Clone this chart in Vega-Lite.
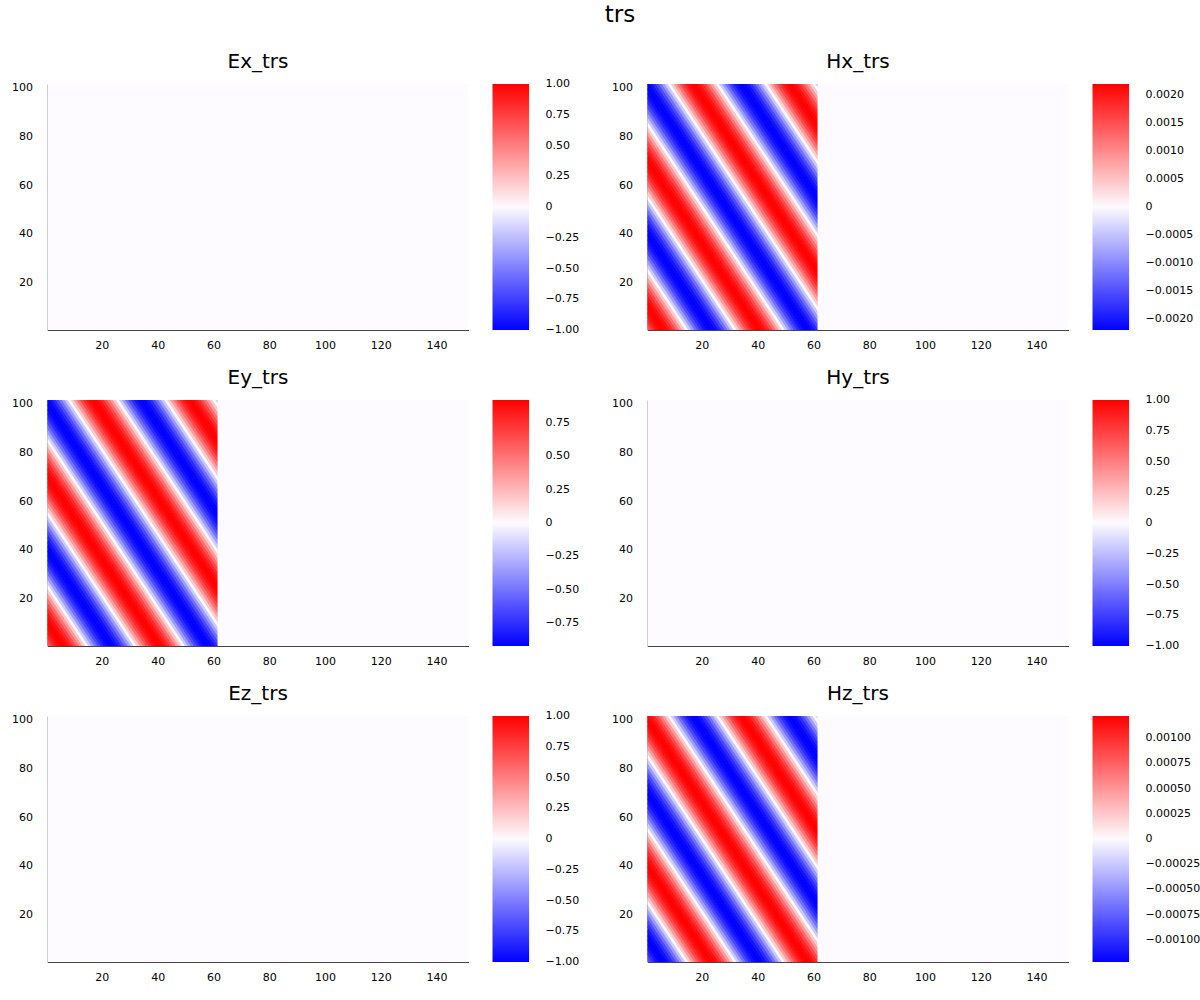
{
 "$schema": "https://vega.github.io/schema/vega-lite/v6.json",
 "background": "white",
 "padding": {"left": 11.5, "top": 3, "right": 0, "bottom": 0},
 "title": {"text": "trs", "fontSize": 23, "anchor": "middle", "offset": 25, "dx": 14},
 "datasets": {
  "zfull": [{"x": 0.5, "x2": 151.5, "y": 0.5, "y2": 101.5, "v": 0}],
  "zright": [{"x": 61.5, "x2": 151.5, "y": 0.5, "y2": 101.5, "v": 0}],
  "wave": [
{"x":0.46,"x2":-59.59,"y":-1,"y2":103,"ey":0.3521,"hx":0.000842,"hz":-0.000467},
{"x":1.54,"x2":-58.50,"y":-1,"y2":103,"ey":0.5111,"hx":0.001222,"hz":-0.000678},
{"x":2.62,"x2":-57.42,"y":-1,"y2":103,"ey":0.6505,"hx":0.001556,"hz":-0.000863},
{"x":3.70,"x2":-56.34,"y":-1,"y2":103,"ey":0.765,"hx":0.001829,"hz":-0.001014},
{"x":4.79,"x2":-55.26,"y":-1,"y2":103,"ey":0.85,"hx":0.002033,"hz":-0.001127},
{"x":5.87,"x2":-54.17,"y":-1,"y2":103,"ey":0.9023,"hx":0.002158,"hz":-0.001197},
{"x":6.95,"x2":-53.09,"y":-1,"y2":103,"ey":0.92,"hx":0.0022,"hz":-0.00122},
{"x":8.03,"x2":-52.01,"y":-1,"y2":103,"ey":0.9023,"hx":0.002158,"hz":-0.001197},
{"x":9.12,"x2":-50.93,"y":-1,"y2":103,"ey":0.85,"hx":0.002033,"hz":-0.001127},
{"x":10.20,"x2":-49.84,"y":-1,"y2":103,"ey":0.765,"hx":0.001829,"hz":-0.001014},
{"x":11.28,"x2":-48.76,"y":-1,"y2":103,"ey":0.6505,"hx":0.001556,"hz":-0.000863},
{"x":12.36,"x2":-47.68,"y":-1,"y2":103,"ey":0.5111,"hx":0.001222,"hz":-0.000678},
{"x":13.45,"x2":-46.60,"y":-1,"y2":103,"ey":0.3521,"hx":0.000842,"hz":-0.000467},
{"x":14.53,"x2":-45.51,"y":-1,"y2":103,"ey":0.1795,"hx":0.000429,"hz":-0.000238},
{"x":15.61,"x2":-44.43,"y":-1,"y2":103,"ey":0,"hx":0,"hz":0},
{"x":16.69,"x2":-43.35,"y":-1,"y2":103,"ey":-0.1795,"hx":-0.000429,"hz":0.000238},
{"x":17.78,"x2":-42.27,"y":-1,"y2":103,"ey":-0.3521,"hx":-0.000842,"hz":0.000467},
{"x":18.86,"x2":-41.18,"y":-1,"y2":103,"ey":-0.5111,"hx":-0.001222,"hz":0.000678},
{"x":19.94,"x2":-40.10,"y":-1,"y2":103,"ey":-0.6505,"hx":-0.001556,"hz":0.000863},
{"x":21.02,"x2":-39.02,"y":-1,"y2":103,"ey":-0.765,"hx":-0.001829,"hz":0.001014},
{"x":22.11,"x2":-37.94,"y":-1,"y2":103,"ey":-0.85,"hx":-0.002033,"hz":0.001127},
{"x":23.19,"x2":-36.85,"y":-1,"y2":103,"ey":-0.9023,"hx":-0.002158,"hz":0.001197},
{"x":24.27,"x2":-35.77,"y":-1,"y2":103,"ey":-0.92,"hx":-0.0022,"hz":0.00122},
{"x":25.35,"x2":-34.69,"y":-1,"y2":103,"ey":-0.9023,"hx":-0.002158,"hz":0.001197},
{"x":26.44,"x2":-33.61,"y":-1,"y2":103,"ey":-0.85,"hx":-0.002033,"hz":0.001127},
{"x":27.52,"x2":-32.52,"y":-1,"y2":103,"ey":-0.765,"hx":-0.001829,"hz":0.001014},
{"x":28.60,"x2":-31.44,"y":-1,"y2":103,"ey":-0.6505,"hx":-0.001556,"hz":0.000863},
{"x":29.68,"x2":-30.36,"y":-1,"y2":103,"ey":-0.5111,"hx":-0.001222,"hz":0.000678},
{"x":30.77,"x2":-29.28,"y":-1,"y2":103,"ey":-0.3521,"hx":-0.000842,"hz":0.000467},
{"x":31.85,"x2":-28.19,"y":-1,"y2":103,"ey":-0.1795,"hx":-0.000429,"hz":0.000238},
{"x":32.93,"x2":-27.11,"y":-1,"y2":103,"ey":0,"hx":0,"hz":0},
{"x":34.01,"x2":-26.03,"y":-1,"y2":103,"ey":0.1795,"hx":0.000429,"hz":-0.000238},
{"x":35.10,"x2":-24.95,"y":-1,"y2":103,"ey":0.3521,"hx":0.000842,"hz":-0.000467},
{"x":36.18,"x2":-23.86,"y":-1,"y2":103,"ey":0.5111,"hx":0.001222,"hz":-0.000678},
{"x":37.26,"x2":-22.78,"y":-1,"y2":103,"ey":0.6505,"hx":0.001556,"hz":-0.000863},
{"x":38.34,"x2":-21.70,"y":-1,"y2":103,"ey":0.765,"hx":0.001829,"hz":-0.001014},
{"x":39.43,"x2":-20.62,"y":-1,"y2":103,"ey":0.85,"hx":0.002033,"hz":-0.001127},
{"x":40.51,"x2":-19.53,"y":-1,"y2":103,"ey":0.9023,"hx":0.002158,"hz":-0.001197},
{"x":41.59,"x2":-18.45,"y":-1,"y2":103,"ey":0.92,"hx":0.0022,"hz":-0.00122},
{"x":42.67,"x2":-17.37,"y":-1,"y2":103,"ey":0.9023,"hx":0.002158,"hz":-0.001197},
{"x":43.76,"x2":-16.29,"y":-1,"y2":103,"ey":0.85,"hx":0.002033,"hz":-0.001127},
{"x":44.84,"x2":-15.20,"y":-1,"y2":103,"ey":0.765,"hx":0.001829,"hz":-0.001014},
{"x":45.92,"x2":-14.12,"y":-1,"y2":103,"ey":0.6505,"hx":0.001556,"hz":-0.000863},
{"x":47.00,"x2":-13.04,"y":-1,"y2":103,"ey":0.5111,"hx":0.001222,"hz":-0.000678},
{"x":48.09,"x2":-11.96,"y":-1,"y2":103,"ey":0.3521,"hx":0.000842,"hz":-0.000467},
{"x":49.17,"x2":-10.87,"y":-1,"y2":103,"ey":0.1795,"hx":0.000429,"hz":-0.000238},
{"x":50.25,"x2":-9.79,"y":-1,"y2":103,"ey":0,"hx":0,"hz":0},
{"x":51.33,"x2":-8.71,"y":-1,"y2":103,"ey":-0.1795,"hx":-0.000429,"hz":0.000238},
{"x":52.42,"x2":-7.63,"y":-1,"y2":103,"ey":-0.3521,"hx":-0.000842,"hz":0.000467},
{"x":53.50,"x2":-6.54,"y":-1,"y2":103,"ey":-0.5111,"hx":-0.001222,"hz":0.000678},
{"x":54.58,"x2":-5.46,"y":-1,"y2":103,"ey":-0.6505,"hx":-0.001556,"hz":0.000863},
{"x":55.66,"x2":-4.38,"y":-1,"y2":103,"ey":-0.765,"hx":-0.001829,"hz":0.001014},
{"x":56.75,"x2":-3.30,"y":-1,"y2":103,"ey":-0.85,"hx":-0.002033,"hz":0.001127},
{"x":57.83,"x2":-2.21,"y":-1,"y2":103,"ey":-0.9023,"hx":-0.002158,"hz":0.001197},
{"x":58.91,"x2":-1.13,"y":-1,"y2":103,"ey":-0.92,"hx":-0.0022,"hz":0.00122},
{"x":59.99,"x2":-0.05,"y":-1,"y2":103,"ey":-0.9023,"hx":-0.002158,"hz":0.001197},
{"x":61.08,"x2":1.03,"y":-1,"y2":103,"ey":-0.85,"hx":-0.002033,"hz":0.001127},
{"x":62.16,"x2":2.11,"y":-1,"y2":103,"ey":-0.765,"hx":-0.001829,"hz":0.001014},
{"x":63.24,"x2":3.20,"y":-1,"y2":103,"ey":-0.6505,"hx":-0.001556,"hz":0.000863},
{"x":64.32,"x2":4.28,"y":-1,"y2":103,"ey":-0.5111,"hx":-0.001222,"hz":0.000678},
{"x":65.41,"x2":5.36,"y":-1,"y2":103,"ey":-0.3521,"hx":-0.000842,"hz":0.000467},
{"x":66.49,"x2":6.44,"y":-1,"y2":103,"ey":-0.1795,"hx":-0.000429,"hz":0.000238},
{"x":67.57,"x2":7.53,"y":-1,"y2":103,"ey":0,"hx":0,"hz":0},
{"x":68.65,"x2":8.61,"y":-1,"y2":103,"ey":0.1795,"hx":0.000429,"hz":-0.000238},
{"x":69.74,"x2":9.69,"y":-1,"y2":103,"ey":0.3521,"hx":0.000842,"hz":-0.000467},
{"x":70.82,"x2":10.77,"y":-1,"y2":103,"ey":0.5111,"hx":0.001222,"hz":-0.000678},
{"x":71.90,"x2":11.86,"y":-1,"y2":103,"ey":0.6505,"hx":0.001556,"hz":-0.000863},
{"x":72.98,"x2":12.94,"y":-1,"y2":103,"ey":0.765,"hx":0.001829,"hz":-0.001014},
{"x":74.07,"x2":14.02,"y":-1,"y2":103,"ey":0.85,"hx":0.002033,"hz":-0.001127},
{"x":75.15,"x2":15.10,"y":-1,"y2":103,"ey":0.9023,"hx":0.002158,"hz":-0.001197},
{"x":76.23,"x2":16.19,"y":-1,"y2":103,"ey":0.92,"hx":0.0022,"hz":-0.00122},
{"x":77.31,"x2":17.27,"y":-1,"y2":103,"ey":0.9023,"hx":0.002158,"hz":-0.001197},
{"x":78.40,"x2":18.35,"y":-1,"y2":103,"ey":0.85,"hx":0.002033,"hz":-0.001127},
{"x":79.48,"x2":19.43,"y":-1,"y2":103,"ey":0.765,"hx":0.001829,"hz":-0.001014},
{"x":80.56,"x2":20.52,"y":-1,"y2":103,"ey":0.6505,"hx":0.001556,"hz":-0.000863},
{"x":81.64,"x2":21.60,"y":-1,"y2":103,"ey":0.5111,"hx":0.001222,"hz":-0.000678},
{"x":82.73,"x2":22.68,"y":-1,"y2":103,"ey":0.3521,"hx":0.000842,"hz":-0.000467},
{"x":83.81,"x2":23.76,"y":-1,"y2":103,"ey":0.1795,"hx":0.000429,"hz":-0.000238},
{"x":84.89,"x2":24.85,"y":-1,"y2":103,"ey":0,"hx":0,"hz":0},
{"x":85.97,"x2":25.93,"y":-1,"y2":103,"ey":-0.1795,"hx":-0.000429,"hz":0.000238},
{"x":87.06,"x2":27.01,"y":-1,"y2":103,"ey":-0.3521,"hx":-0.000842,"hz":0.000467},
{"x":88.14,"x2":28.09,"y":-1,"y2":103,"ey":-0.5111,"hx":-0.001222,"hz":0.000678},
{"x":89.22,"x2":29.18,"y":-1,"y2":103,"ey":-0.6505,"hx":-0.001556,"hz":0.000863},
{"x":90.30,"x2":30.26,"y":-1,"y2":103,"ey":-0.765,"hx":-0.001829,"hz":0.001014},
{"x":91.39,"x2":31.34,"y":-1,"y2":103,"ey":-0.85,"hx":-0.002033,"hz":0.001127},
{"x":92.47,"x2":32.42,"y":-1,"y2":103,"ey":-0.9023,"hx":-0.002158,"hz":0.001197},
{"x":93.55,"x2":33.51,"y":-1,"y2":103,"ey":-0.92,"hx":-0.0022,"hz":0.00122},
{"x":94.63,"x2":34.59,"y":-1,"y2":103,"ey":-0.9023,"hx":-0.002158,"hz":0.001197},
{"x":95.72,"x2":35.67,"y":-1,"y2":103,"ey":-0.85,"hx":-0.002033,"hz":0.001127},
{"x":96.80,"x2":36.75,"y":-1,"y2":103,"ey":-0.765,"hx":-0.001829,"hz":0.001014},
{"x":97.88,"x2":37.84,"y":-1,"y2":103,"ey":-0.6505,"hx":-0.001556,"hz":0.000863},
{"x":98.96,"x2":38.92,"y":-1,"y2":103,"ey":-0.5111,"hx":-0.001222,"hz":0.000678},
{"x":100.05,"x2":40.00,"y":-1,"y2":103,"ey":-0.3521,"hx":-0.000842,"hz":0.000467},
{"x":101.13,"x2":41.08,"y":-1,"y2":103,"ey":-0.1795,"hx":-0.000429,"hz":0.000238},
{"x":102.21,"x2":42.17,"y":-1,"y2":103,"ey":0,"hx":0,"hz":0},
{"x":103.29,"x2":43.25,"y":-1,"y2":103,"ey":0.1795,"hx":0.000429,"hz":-0.000238},
{"x":104.38,"x2":44.33,"y":-1,"y2":103,"ey":0.3521,"hx":0.000842,"hz":-0.000467},
{"x":105.46,"x2":45.41,"y":-1,"y2":103,"ey":0.5111,"hx":0.001222,"hz":-0.000678},
{"x":106.54,"x2":46.50,"y":-1,"y2":103,"ey":0.6505,"hx":0.001556,"hz":-0.000863},
{"x":107.62,"x2":47.58,"y":-1,"y2":103,"ey":0.765,"hx":0.001829,"hz":-0.001014},
{"x":108.71,"x2":48.66,"y":-1,"y2":103,"ey":0.85,"hx":0.002033,"hz":-0.001127},
{"x":109.79,"x2":49.74,"y":-1,"y2":103,"ey":0.9023,"hx":0.002158,"hz":-0.001197},
{"x":110.87,"x2":50.83,"y":-1,"y2":103,"ey":0.92,"hx":0.0022,"hz":-0.00122},
{"x":111.95,"x2":51.91,"y":-1,"y2":103,"ey":0.9023,"hx":0.002158,"hz":-0.001197},
{"x":113.04,"x2":52.99,"y":-1,"y2":103,"ey":0.85,"hx":0.002033,"hz":-0.001127},
{"x":114.12,"x2":54.07,"y":-1,"y2":103,"ey":0.765,"hx":0.001829,"hz":-0.001014},
{"x":115.20,"x2":55.16,"y":-1,"y2":103,"ey":0.6505,"hx":0.001556,"hz":-0.000863},
{"x":116.28,"x2":56.24,"y":-1,"y2":103,"ey":0.5111,"hx":0.001222,"hz":-0.000678},
{"x":117.37,"x2":57.32,"y":-1,"y2":103,"ey":0.3521,"hx":0.000842,"hz":-0.000467},
{"x":118.45,"x2":58.40,"y":-1,"y2":103,"ey":0.1795,"hx":0.000429,"hz":-0.000238},
{"x":119.53,"x2":59.49,"y":-1,"y2":103,"ey":0,"hx":0,"hz":0},
{"x":120.61,"x2":60.57,"y":-1,"y2":103,"ey":-0.1795,"hx":-0.000429,"hz":0.000238},
{"x":121.70,"x2":61.65,"y":-1,"y2":103,"ey":-0.3521,"hx":-0.000842,"hz":0.000467}
  ]
 },
 "columns": 2,
 "spacing": {"row": 70, "column": 179},
 "bounds": "flush",
 "resolve": {"scale": {"color": "independent"}, "legend": {"color": "independent"}},
 "concat": [
    {
     "width": 421, "height": 246, "title": "Ex_trs",
     "data": {"name": "zfull"},
     "mark": {"type": "rect"},
     "encoding": {
      "x": {"field": "x", "type": "quantitative", "scale": {"domain": [0.5, 151.5], "nice": false, "zero": false}, "axis": {"values": [20, 40, 60, 80, 100, 120, 140], "title": null}},
      "x2": {"field": "x2"},
      "y": {"field": "y", "type": "quantitative", "scale": {"domain": [0.5, 101.5], "nice": false, "zero": false}, "axis": {"values": [20, 40, 60, 80, 100], "title": null}},
      "y2": {"field": "y2"},
      "color": {"field": "v", "type": "quantitative", "scale": {"domain": [-1, 0, 1], "range": ["#0000ff", "#fdfbff", "#ff0000"], "interpolate": "rgb"}, "legend": {"type": "gradient", "title": null, "labelOffset": 16.5, "values": [-1, -0.75, -0.5, -0.25, 0, 0.25, 0.5, 0.75, 1], "labelExpr": "datum.value == 0 ? '0' : format(datum.value, '.2f')", "encode": {"labels": {"update": {"baseline": {"value": "middle"}}}}}}
     }
    },
    {
     "width": 421, "height": 246, "title": "Hx_trs",
     "resolve": {"scale": {"color": "shared"}, "legend": {"color": "independent"}},
     "layer": [
      {
       "data": {"name": "wave"},
       "mark": {"type": "rule", "strokeWidth": 3.2, "clip": true},
       "encoding": {
        "x": {"field": "x", "type": "quantitative", "scale": {"domain": [0.5, 151.5], "nice": false, "zero": false}, "axis": {"values": [20, 40, 60, 80, 100, 120, 140], "title": null}},
        "x2": {"field": "x2"},
        "y": {"field": "y", "type": "quantitative", "scale": {"domain": [0.5, 101.5], "nice": false, "zero": false}, "axis": {"values": [20, 40, 60, 80, 100], "title": null}},
        "y2": {"field": "y2"},
        "color": {"field": "hx", "type": "quantitative", "scale": {"domain": [-0.0022, 0, 0.0022], "range": ["#0000ff", "#fdfbff", "#ff0000"], "interpolate": "rgb"}, "legend": null}
       }
      },
      {
       "data": {"name": "zright"},
       "mark": {"type": "rect"},
       "encoding": {
        "x": {"field": "x", "type": "quantitative"},
        "x2": {"field": "x2"},
        "y": {"field": "y", "type": "quantitative"},
        "y2": {"field": "y2"},
        "color": {"field": "v", "type": "quantitative", "scale": {"domain": [-0.0022, 0, 0.0022], "range": ["#0000ff", "#fdfbff", "#ff0000"], "interpolate": "rgb"}, "legend": {"type": "gradient", "title": null, "labelOffset": 16.5, "values": [-0.002, -0.0015, -0.001, -0.0005, 0, 0.0005, 0.001, 0.0015, 0.002], "labelExpr": "datum.value == 0 ? '0' : format(datum.value, '.4f')", "encode": {"labels": {"update": {"baseline": {"value": "middle"}}}}}}
       }
      }
     ]
    },
    {
     "width": 421, "height": 246, "title": "Ey_trs",
     "resolve": {"scale": {"color": "shared"}, "legend": {"color": "independent"}},
     "layer": [
      {
       "data": {"name": "wave"},
       "mark": {"type": "rule", "strokeWidth": 3.2, "clip": true},
       "encoding": {
        "x": {"field": "x", "type": "quantitative", "scale": {"domain": [0.5, 151.5], "nice": false, "zero": false}, "axis": {"values": [20, 40, 60, 80, 100, 120, 140], "title": null}},
        "x2": {"field": "x2"},
        "y": {"field": "y", "type": "quantitative", "scale": {"domain": [0.5, 101.5], "nice": false, "zero": false}, "axis": {"values": [20, 40, 60, 80, 100], "title": null}},
        "y2": {"field": "y2"},
        "color": {"field": "ey", "type": "quantitative", "scale": {"domain": [-0.92, 0, 0.92], "range": ["#0000ff", "#fdfbff", "#ff0000"], "interpolate": "rgb"}, "legend": null}
       }
      },
      {
       "data": {"name": "zright"},
       "mark": {"type": "rect"},
       "encoding": {
        "x": {"field": "x", "type": "quantitative"},
        "x2": {"field": "x2"},
        "y": {"field": "y", "type": "quantitative"},
        "y2": {"field": "y2"},
        "color": {"field": "v", "type": "quantitative", "scale": {"domain": [-0.92, 0, 0.92], "range": ["#0000ff", "#fdfbff", "#ff0000"], "interpolate": "rgb"}, "legend": {"type": "gradient", "title": null, "labelOffset": 16.5, "values": [-0.75, -0.5, -0.25, 0, 0.25, 0.5, 0.75], "labelExpr": "datum.value == 0 ? '0' : format(datum.value, '.2f')", "encode": {"labels": {"update": {"baseline": {"value": "middle"}}}}}}
       }
      }
     ]
    },
    {
     "width": 421, "height": 246, "title": "Hy_trs",
     "data": {"name": "zfull"},
     "mark": {"type": "rect"},
     "encoding": {
      "x": {"field": "x", "type": "quantitative", "scale": {"domain": [0.5, 151.5], "nice": false, "zero": false}, "axis": {"values": [20, 40, 60, 80, 100, 120, 140], "title": null}},
      "x2": {"field": "x2"},
      "y": {"field": "y", "type": "quantitative", "scale": {"domain": [0.5, 101.5], "nice": false, "zero": false}, "axis": {"values": [20, 40, 60, 80, 100], "title": null}},
      "y2": {"field": "y2"},
      "color": {"field": "v", "type": "quantitative", "scale": {"domain": [-1, 0, 1], "range": ["#0000ff", "#fdfbff", "#ff0000"], "interpolate": "rgb"}, "legend": {"type": "gradient", "title": null, "labelOffset": 16.5, "values": [-1, -0.75, -0.5, -0.25, 0, 0.25, 0.5, 0.75, 1], "labelExpr": "datum.value == 0 ? '0' : format(datum.value, '.2f')", "encode": {"labels": {"update": {"baseline": {"value": "middle"}}}}}}
     }
    },
    {
     "width": 421, "height": 246, "title": "Ez_trs",
     "data": {"name": "zfull"},
     "mark": {"type": "rect"},
     "encoding": {
      "x": {"field": "x", "type": "quantitative", "scale": {"domain": [0.5, 151.5], "nice": false, "zero": false}, "axis": {"values": [20, 40, 60, 80, 100, 120, 140], "title": null}},
      "x2": {"field": "x2"},
      "y": {"field": "y", "type": "quantitative", "scale": {"domain": [0.5, 101.5], "nice": false, "zero": false}, "axis": {"values": [20, 40, 60, 80, 100], "title": null}},
      "y2": {"field": "y2"},
      "color": {"field": "v", "type": "quantitative", "scale": {"domain": [-1, 0, 1], "range": ["#0000ff", "#fdfbff", "#ff0000"], "interpolate": "rgb"}, "legend": {"type": "gradient", "title": null, "labelOffset": 16.5, "values": [-1, -0.75, -0.5, -0.25, 0, 0.25, 0.5, 0.75, 1], "labelExpr": "datum.value == 0 ? '0' : format(datum.value, '.2f')", "encode": {"labels": {"update": {"baseline": {"value": "middle"}}}}}}
     }
    },
    {
     "width": 421, "height": 246, "title": "Hz_trs",
     "resolve": {"scale": {"color": "shared"}, "legend": {"color": "independent"}},
     "layer": [
      {
       "data": {"name": "wave"},
       "mark": {"type": "rule", "strokeWidth": 3.2, "clip": true},
       "encoding": {
        "x": {"field": "x", "type": "quantitative", "scale": {"domain": [0.5, 151.5], "nice": false, "zero": false}, "axis": {"values": [20, 40, 60, 80, 100, 120, 140], "title": null}},
        "x2": {"field": "x2"},
        "y": {"field": "y", "type": "quantitative", "scale": {"domain": [0.5, 101.5], "nice": false, "zero": false}, "axis": {"values": [20, 40, 60, 80, 100], "title": null}},
        "y2": {"field": "y2"},
        "color": {"field": "hz", "type": "quantitative", "scale": {"domain": [-0.00122, 0, 0.00122], "range": ["#0000ff", "#fdfbff", "#ff0000"], "interpolate": "rgb"}, "legend": null}
       }
      },
      {
       "data": {"name": "zright"},
       "mark": {"type": "rect"},
       "encoding": {
        "x": {"field": "x", "type": "quantitative"},
        "x2": {"field": "x2"},
        "y": {"field": "y", "type": "quantitative"},
        "y2": {"field": "y2"},
        "color": {"field": "v", "type": "quantitative", "scale": {"domain": [-0.00122, 0, 0.00122], "range": ["#0000ff", "#fdfbff", "#ff0000"], "interpolate": "rgb"}, "legend": {"type": "gradient", "title": null, "labelOffset": 16.5, "values": [-0.001, -0.00075, -0.0005, -0.00025, 0, 0.00025, 0.0005, 0.00075, 0.001], "labelExpr": "datum.value == 0 ? '0' : format(datum.value, '.5f')", "encode": {"labels": {"update": {"baseline": {"value": "middle"}}}}}}
       }
      }
     ]
    }
 ],
 "config": {
  "view": {"stroke": null},
  "font": "DejaVu Sans",
  "title": {"font": "DejaVu Sans", "fontWeight": "normal", "fontSize": 20, "color": "#000000", "offset": 10},
  "axis": {"grid": false, "ticks": false, "labelFont": "DejaVu Sans", "labelFontSize": 11, "labelColor": "#000000", "domainColor": "#444444", "domainWidth": 1, "zindex": 1},
  "axisX": {"labelPadding": 9},
  "axisY": {"labelPadding": 15},
  "legend": {"gradientLength": 246, "gradientThickness": 36.6, "offset": 23.5, "padding": 0, "labelOffset": 16.5, "labelFontSize": 11, "labelFont": "DejaVu Sans", "labelColor": "#000000", "labelBaseline": "middle", "labelOverlap": false, "gradientStrokeWidth": 0, "direction": "vertical"}
 }
}
